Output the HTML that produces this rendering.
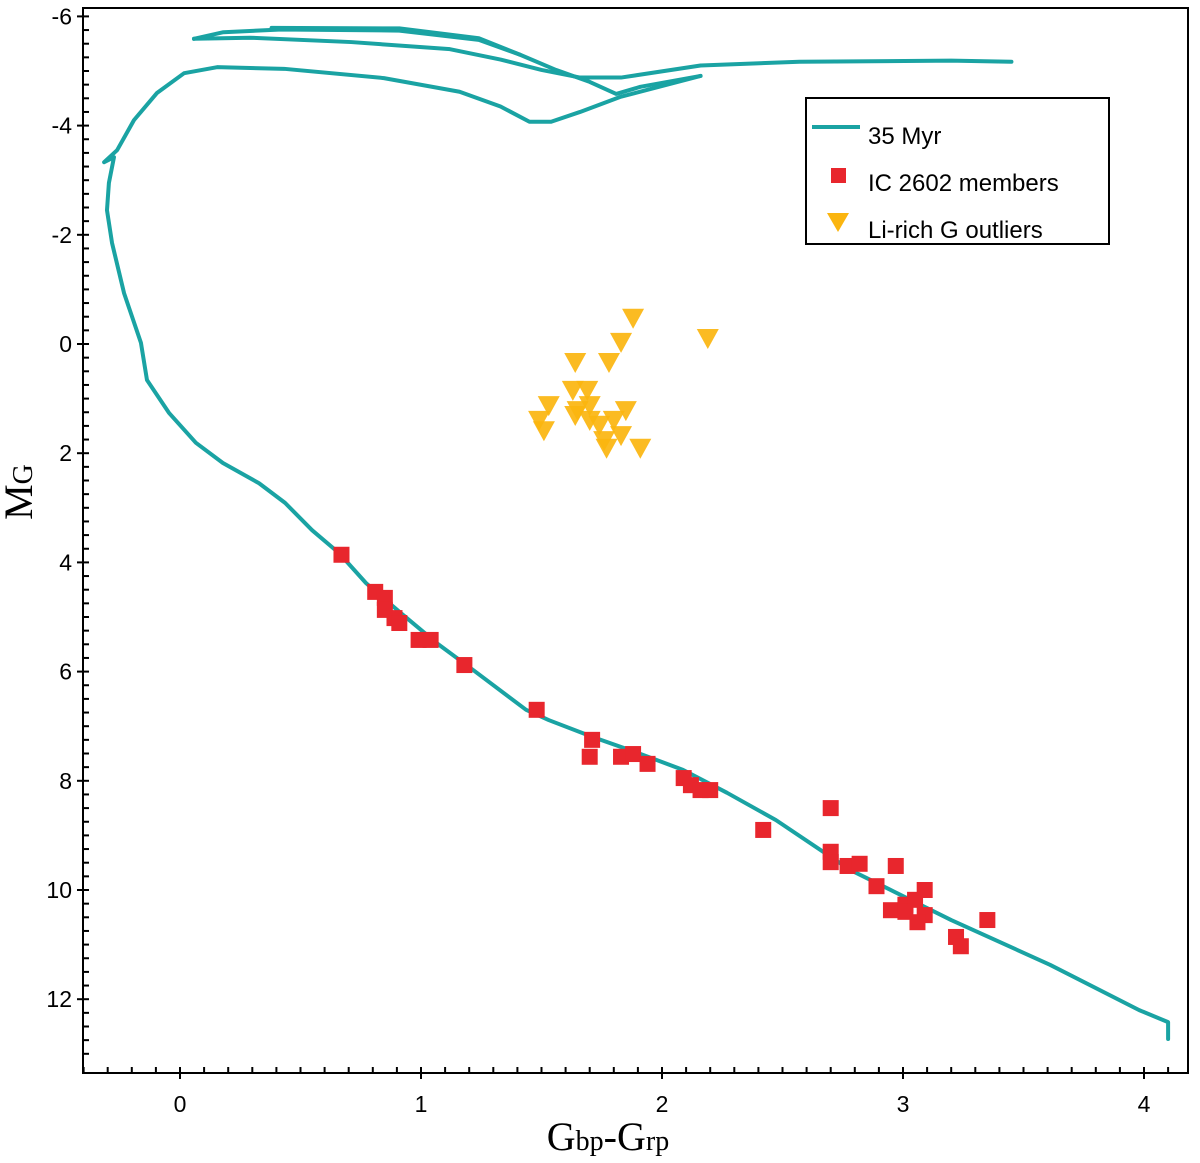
<!DOCTYPE html>
<html><head><meta charset="utf-8"><style>
html,body{margin:0;padding:0;background:#fff;}
svg{display:block;font-family:"Liberation Sans",sans-serif;}
</style></head><body>
<svg id="chart" width="1200" height="1163" viewBox="0 0 1200 1163" xmlns="http://www.w3.org/2000/svg">
<g id="axes"></g>
<g id="iso"></g>
<g id="tri"></g>
<g id="sq"></g>
<g>
<rect x="806" y="98" width="303" height="146" fill="#fff" stroke="#000" stroke-width="2"/>
<line x1="812" y1="127" x2="860" y2="127" stroke="#1aa3a3" stroke-width="4"/>
<text x="868" y="144" font-size="24">35 Myr</text>
<rect x="831" y="168" width="15" height="15" fill="#e8262d"/>
<text x="868" y="191" font-size="24">IC 2602 members</text>
<polygon points="827,213 849,213 838,232" fill="#fbb50f"/>
<text x="868" y="238" font-size="24">Li-rich G outliers</text>
</g>
<text x="32" y="492" font-family="Liberation Serif,serif" font-size="40" transform="rotate(-90 32 492)" text-anchor="middle">M<tspan font-size="28">G</tspan></text>
<text x="608" y="1150" font-family="Liberation Serif,serif" font-size="40" text-anchor="middle">G<tspan font-size="28">bp</tspan>-G<tspan font-size="28">rp</tspan></text>
</svg>
<script>
const xTicks=[0,1,2,3,4];
const yTicks=[-6,-4,-2,0,2,4,6,8,10,12];
const memX=[0.67,0.81,0.85,0.85,0.89,0.91,0.99,1.04,1.18,1.48,1.71,1.70,1.83,1.88,1.94,2.09,2.12,2.16,2.20,2.42,2.70,2.70,2.70,2.77,2.82,2.89,2.97,2.95,3.01,3.05,3.09,3.09,3.06,3.01,3.22,3.24,3.35];
const memY=[3.86,4.54,4.65,4.87,5.02,5.11,5.42,5.42,5.88,6.70,7.25,7.56,7.56,7.51,7.69,7.95,8.08,8.17,8.17,8.90,8.50,9.30,9.49,9.56,9.52,9.93,9.56,10.37,10.27,10.18,10.0,10.46,10.59,10.40,10.86,11.03,10.55];
const outX=[1.88,2.19,1.83,1.64,1.78,1.63,1.69,1.53,1.65,1.70,1.85,1.49,1.51,1.64,1.74,1.80,1.76,1.83,1.91,1.77,1.70];
const outY=[-0.48,-0.11,-0.04,0.33,0.33,0.84,0.84,1.12,1.21,1.12,1.21,1.39,1.58,1.30,1.48,1.39,1.76,1.67,1.90,1.90,1.39];
// isochrone segments (color, magnitude)
const isoMainX=[4.10,4.10,3.98,3.61,3.20,2.78,2.473,2.27,2.087,1.90,1.714,1.531,1.436,1.216,1.066,0.917,0.772,0.66,0.548,0.436,0.328,0.178,0.066,-0.046,-0.137,-0.162,-0.232,-0.282,-0.303,-0.295,-0.274,-0.315,-0.261,-0.191,-0.095,0.017,0.154,0.432,0.846,1.16,1.33,1.45,1.54,1.66,1.83,2.16];
const isoMainY=[12.73,12.42,12.2,11.37,10.55,9.63,8.72,8.22,7.80,7.49,7.20,6.89,6.70,5.97,5.48,4.93,4.38,3.83,3.41,2.91,2.55,2.18,1.81,1.26,0.66,-0.02,-0.93,-1.85,-2.45,-2.95,-3.42,-3.33,-3.55,-4.10,-4.60,-4.96,-5.07,-5.04,-4.87,-4.62,-4.35,-4.07,-4.07,-4.25,-4.53,-4.91];
const isoUpX=[0.058,0.18,0.42,0.91,1.24,1.41,1.56,1.70,1.81,1.91,2.16];
const isoUpY=[-5.59,-5.71,-5.76,-5.74,-5.57,-5.30,-5.02,-4.80,-4.58,-4.71,-4.91];
const isoTopX=[0.058,0.29,0.71,1.12,1.33,1.50,1.66,1.83,2.16,2.57,3.20,3.45];
const isoTopY=[-5.59,-5.61,-5.53,-5.40,-5.21,-5.02,-4.88,-4.88,-5.10,-5.17,-5.19,-5.17];
const isoInX=[0.38,0.91,1.24,1.41];
const isoInY=[-5.79,-5.78,-5.60,-5.30];

const X0=180,XS=241,Y0=344,YS=54.6;
const sx=v=>X0+v*XS, sy=v=>Y0+v*YS;
const NS='http://www.w3.org/2000/svg';
function mk(t,a,p){const e=document.createElementNS(NS,t);for(const k in a)e.setAttribute(k,a[k]);p.appendChild(e);return e;}
const ax=document.getElementById('axes');
const L=83,R=1188,T=8,B=1073;
const fr=mk('rect',{x:L,y:T,width:R-L,height:B-T,fill:'none',stroke:'#000','stroke-width':2},ax);


for(let v=-6.25;v<=13.1;v+=0.25){const y=sy(v);if(y<T||y>B)continue;const maj=Math.abs(v-Math.round(v/2)*2)<1e-6;
 mk('line',{x1:maj?L-6:L,y1:y,x2:L+6,y2:y,stroke:'#000','stroke-width':2},ax);}
for(let v=-0.4;v<=4.25;v+=0.1){const x=sx(v);if(x<L||x>R)continue;const maj=Math.abs(v-Math.round(v))<1e-6;
 mk('line',{x1:x,y1:B-6,x2:x,y2:maj?B+6:B,stroke:'#000','stroke-width':2},ax);}
yTicks.forEach(v=>{const t=mk('text',{x:72,y:sy(v)+8,'font-size':23,'text-anchor':'end'},ax);t.textContent=v;
 
 });
xTicks.forEach(v=>{const t=mk('text',{x:sx(v),y:1112,'font-size':23,'text-anchor':'middle'},ax);t.textContent=v;
 
 });
const iso=document.getElementById('iso');
[[isoMainX,isoMainY],[isoUpX,isoUpY],[isoTopX,isoTopY],[isoInX,isoInY]].forEach(([xs,ys])=>{
 const p=mk('polyline',{points:xs.map((v,i)=>sx(v)+','+sy(ys[i])).join(' '),fill:'none',stroke:'#1aa3a3','stroke-width':4,'stroke-linejoin':'round','stroke-linecap':'round'},iso);
 
 });
const tri=document.getElementById('tri');
outX.forEach((v,i)=>{const x=sx(v),y=sy(outY[i]);
 const p=mk('polygon',{points:`${x-11},${y-9} ${x+11},${y-9} ${x},${y+11}`,fill:'#fbb50f','fill-opacity':0.92},tri);
 
 });
const sq=document.getElementById('sq');
memX.forEach((v,i)=>{const x=sx(v),y=sy(memY[i]);
 const r=mk('rect',{x:x-8,y:y-8,width:16,height:16,fill:'#e8262d'},sq);
 
 });
</script>
</body></html>
